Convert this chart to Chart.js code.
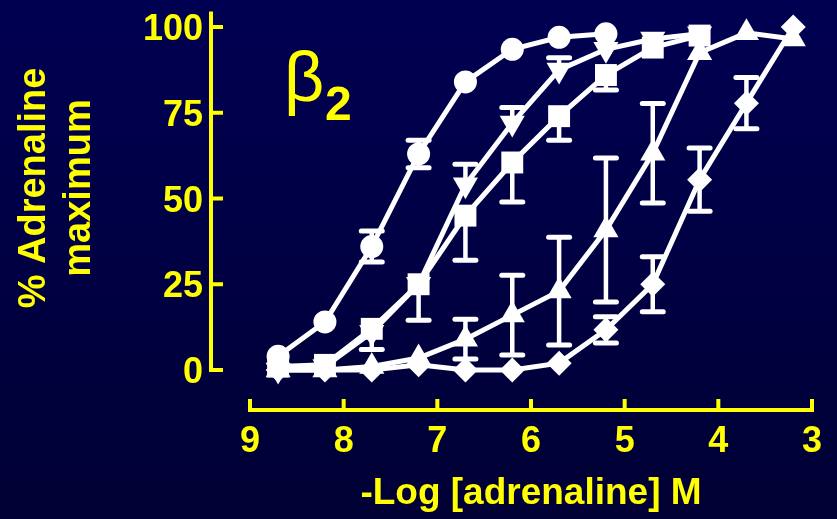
<!DOCTYPE html>
<html>
<head>
<meta charset="utf-8">
<script src="https://cdn.jsdelivr.net/npm/chart.js@4/dist/chart.umd.min.js"></script>
<style>
  html, body { margin: 0; padding: 0; }
  body {
    width: 837px;
    height: 519px;
    overflow: hidden;
    background: linear-gradient(#000052, #000034);
  }
</style>
</head>
<body>
<canvas id="doseChart" width="837" height="519"></canvas>
<script>
// -log [adrenaline] of each dose step
const logDoses = [8.7, 8.2, 7.7, 7.2, 6.7, 6.2, 5.7, 5.2, 4.7, 4.2, 3.7, 3.2];

// % of adrenaline maximum, one curve per marker
const circleMean = [4, 14, 36, 63, 84, 93.5, 97, 98];
const circleSem  = [0, 0, 4.5, 4, 0, 0, 0, 0];

const downTriMean = [0, 1, 11, 25, 54, 72, 87.5, 93.5, 96.5, 98];
const downTriSem  = [0, 0, 0, 0, 6, 4.5, 3.5, 0, 0, 0];

const squareMean = [1, 1.5, 12, 25, 45, 60.5, 74, 86, 94, 97.5];
const squareSem  = [0, 0, 6, 10.5, 13, 11.5, 7, 4.4, 0, 0];

const upTriMean = [0, 0, 1, 3.5, 9, 16, 23, 40.8, 63.2, 92.5, 98.3, 96.5];
const upTriSem  = [0, 0, 0, 0, 5.8, 11.6, 15.7, 21, 14.5, 0, 0, 0];

const diamondMean = [0, 0, 0, 1.5, 0, 0, 2, 11.7, 25, 55.5, 77.8, 100];
const diamondSem  = [0, 0, 0, 0, 0, 0, 0, 3.8, 8, 9.2, 7.5, 0];

const xTicks = [9, 8, 7, 6, 5, 4, 3];
const yTicks = [0, 25, 50, 75, 100];

const YELLOW = '#ffff00';
const WHITE = '#ffffff';
const FONT = '"Liberation Sans", Arial, sans-serif';

const toPoints = (mean) => mean.map((v, i) => ({x: logDoses[i], y: v}));

const curve = (mean, sem, errorDir, style, radius, rotation) => ({
    data: toPoints(mean),
    sem: sem,
    errorDir: errorDir,
    borderColor: WHITE,
    backgroundColor: WHITE,
    borderWidth: 5,
    pointStyle: style,
    pointRadius: radius,
    pointRotation: rotation || 0,
    pointBackgroundColor: WHITE,
    pointBorderColor: WHITE,
    pointBorderWidth: 0,
    tension: 0,
    clip: false
});

// SEM whiskers, drawn under the lines and markers
const errorBars = {
    id: 'errorBars',
    beforeDatasetsDraw(chart) {
        const ctx = chart.ctx;
        const y = chart.scales.y;
        ctx.save();
        ctx.strokeStyle = WHITE;
        chart.data.datasets.forEach((ds, di) => {
            const meta = chart.getDatasetMeta(di);
            ds.sem.forEach((s, i) => {
                if (!s) return;
                const px = meta.data[i].x;
                const mean = ds.data[i].y;
                const ends = [];
                if (ds.errorDir !== 'below') ends.push(mean + s);
                if (ds.errorDir !== 'above') ends.push(mean - s);
                ends.forEach(v => {
                    const py = y.getPixelForValue(v);
                    ctx.lineCap = 'butt';
                    ctx.lineWidth = 4.5;
                    ctx.beginPath();
                    ctx.moveTo(px, y.getPixelForValue(mean));
                    ctx.lineTo(px, py);
                    ctx.stroke();
                    ctx.lineCap = 'round';
                    ctx.lineWidth = 5;
                    ctx.beginPath();
                    ctx.moveTo(px - 10.5, py);
                    ctx.lineTo(px + 10.5, py);
                    ctx.stroke();
                });
            });
        });
        ctx.restore();
    }
};

// detached yellow axes with inward ticks, labels and titles
const offsetAxes = {
    id: 'offsetAxes',
    afterDraw(chart) {
        const ctx = chart.ctx;
        const x = chart.scales.x;
        const y = chart.scales.y;
        const axisX = x.getPixelForValue(9) - 39;
        const axisY = y.getPixelForValue(0) + 40;
        ctx.save();
        ctx.strokeStyle = YELLOW;
        ctx.fillStyle = YELLOW;
        ctx.lineCap = 'butt';
        ctx.lineWidth = 4;

        // y axis
        ctx.beginPath();
        ctx.moveTo(axisX, y.getPixelForValue(0) + 2);
        ctx.lineTo(axisX, y.getPixelForValue(104.5));
        ctx.stroke();
        ctx.font = 'bold 36px ' + FONT;
        ctx.textAlign = 'right';
        ctx.textBaseline = 'alphabetic';
        yTicks.forEach(t => {
            const py = y.getPixelForValue(t);
            ctx.beginPath();
            ctx.moveTo(axisX, py);
            ctx.lineTo(axisX + 12, py);
            ctx.stroke();
            ctx.fillText(String(t), axisX - 8, py + 13);
        });

        // x axis
        ctx.beginPath();
        ctx.moveTo(x.getPixelForValue(9) - 2, axisY);
        ctx.lineTo(x.getPixelForValue(3) + 2, axisY);
        ctx.stroke();
        ctx.textAlign = 'center';
        xTicks.forEach(t => {
            const px = x.getPixelForValue(t);
            ctx.beginPath();
            ctx.moveTo(px, axisY + 2);
            ctx.lineTo(px, axisY - 11);
            ctx.stroke();
            ctx.fillText(String(t), px, axisY + 42);
        });

        // axis titles
        ctx.font = 'bold 37px ' + FONT;
        ctx.fillText('-Log [adrenaline] M', (x.left + x.right) / 2, axisY + 94);

        ctx.save();
        ctx.translate(0, 188);
        ctx.rotate(-Math.PI / 2);
        ctx.font = 'bold 38px ' + FONT;
        ctx.fillText('% Adrenaline', 0, 45);
        ctx.fillText('maximum', 0, 90);
        ctx.restore();

        // receptor subtype
        ctx.textAlign = 'left';
        ctx.font = '70px ' + FONT;
        ctx.fillText('β', 284, 101);
        ctx.font = 'bold 48px ' + FONT;
        ctx.fillText('2', 325, 120);
        ctx.restore();
    }
};

new Chart(document.getElementById('doseChart'), {
    type: 'line',
    data: {
        datasets: [
            curve(circleMean, circleSem, 'both', 'circle', 11.5),
            curve(downTriMean, downTriSem, 'above', 'triangle', 14.5, 180),
            curve(squareMean, squareSem, 'below', 'rect', 15.5),
            curve(upTriMean, upTriSem, 'both', 'triangle', 14.5),
            curve(diamondMean, diamondSem, 'both', 'rectRot', 12.5)
        ]
    },
    options: {
        responsive: false,
        devicePixelRatio: 1,
        animation: false,
        layout: {
            padding: {left: 250, right: 25, top: 27, bottom: 149}
        },
        plugins: {
            legend: {display: false},
            tooltip: {enabled: false}
        },
        scales: {
            x: {type: 'linear', min: 3, max: 9, reverse: true, display: false},
            y: {type: 'linear', min: 0, max: 100, display: false}
        }
    },
    plugins: [errorBars, offsetAxes]
});
</script>
</body>
</html>
